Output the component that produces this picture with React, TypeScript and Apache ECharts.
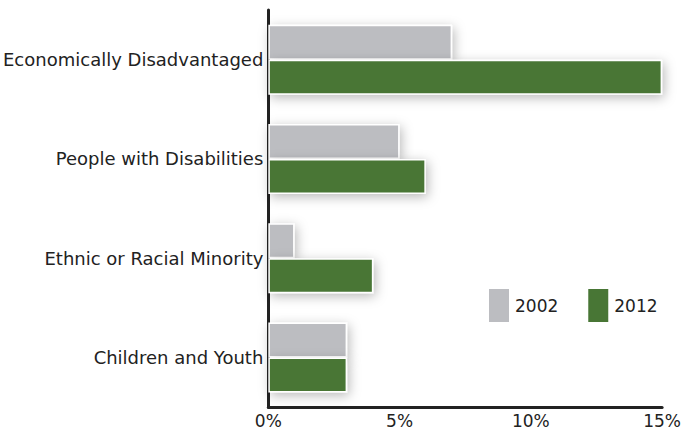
import React, { useEffect, useRef } from "react";
import * as echarts from "echarts";

const categories = [
  "Children and Youth",
  "Ethnic or Racial Minority",
  "People with Disabilities",
  "Economically Disadvantaged",
];
const values2002 = [3, 1, 5, 7];
const values2012 = [3, 4, 6, 15];
const xTicks = [0, 5, 10, 15];

export default function App() {
  const ref = useRef<HTMLDivElement>(null);
  useEffect(() => {
    if (!ref.current) return;
    const chart = echarts.init(ref.current, null, { renderer: "svg" });
    const barStyle = (color: string) => ({
      color,
      borderColor: "#ffffff",
      borderWidth: 1.5,
      shadowBlur: 12,
      shadowColor: "rgba(0,0,0,0.28)",
      shadowOffsetX: 2,
      shadowOffsetY: 3,
    });
    chart.setOption({
      animation: false,
      backgroundColor: "#ffffff",
      textStyle: { fontFamily: "DejaVu Sans" },
      grid: { left: 268, right: 21, top: 10, bottom: 25, containLabel: false },
      legend: {
        data: ["2002", "2012"],
        left: 487,
        top: 287,
        padding: 0,
        itemWidth: 22,
        itemHeight: 35,
        itemGap: 28,
        icon: "rect",
        textStyle: { fontSize: 17, color: "#222", fontFamily: "DejaVu Sans" },
      },
      xAxis: {
        type: "value",
        min: 0,
        max: 15,
        interval: 5,
        axisLine: { show: true, lineStyle: { color: "#222", width: 3 } },
        axisTick: { show: false },
        splitLine: { show: false },
        axisLabel: {
          fontSize: 17,
          color: "#222",
          margin: 5,
          formatter: (v: number) => (xTicks.includes(v) ? v + "%" : ""),
        },
      },
      yAxis: {
        type: "category",
        data: categories,
        axisLine: { show: true, lineStyle: { color: "#222", width: 3 } },
        axisTick: { show: false },
        axisLabel: { fontSize: 18, color: "#222", margin: 5 },
      },
      series: [
        {
          name: "2002",
          type: "bar",
          data: values2002,
          barWidth: 35,
          barGap: "0%",
          itemStyle: barStyle("#bcbdc1"),
        },
        {
          name: "2012",
          type: "bar",
          data: values2012,
          barWidth: 35,
          barGap: "0%",
          itemStyle: barStyle("#487635"),
        },
      ],
    });
    return () => chart.dispose();
  }, []);
  return (
    <div
      ref={ref}
      style={{ width: 684, height: 432, position: "fixed", left: 0, top: 0 }}
    />
  );
}
